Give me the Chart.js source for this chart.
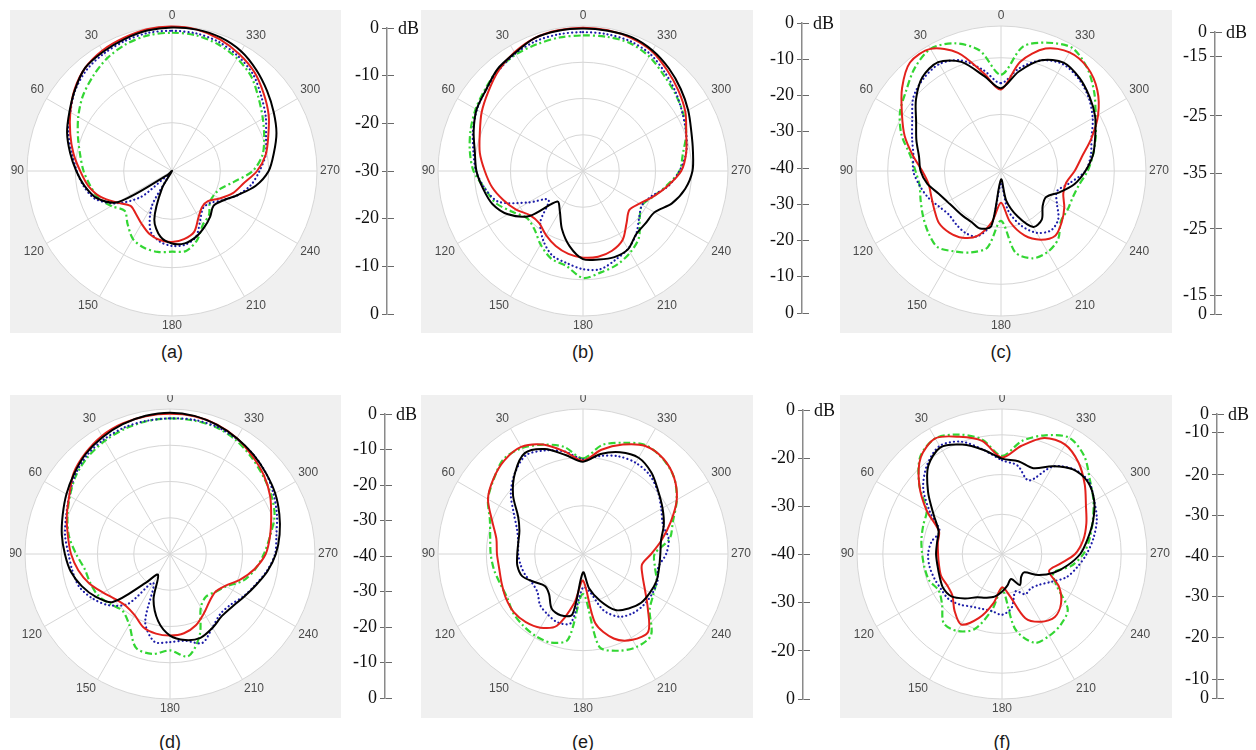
<!DOCTYPE html>
<html>
<head>
<meta charset="utf-8">
<script src="https://cdn.jsdelivr.net/npm/chart.js@4.4.1/dist/chart.umd.min.js"></script>
<style>
  html, body { margin: 0; padding: 0; background: #fff; }
  #fig { position: relative; width: 1256px; height: 750px; overflow: hidden; }
  .box { position: absolute; background: #f0f0f0; overflow: hidden; }
  .box canvas, .ax { position: absolute; }
  .db { position: absolute; font: 18px "Liberation Serif", "Times New Roman", serif; color: #111; line-height: 20px; }
  .cap { position: absolute; width: 60px; text-align: center; font: 18px "Liberation Sans", Arial, sans-serif; color: #1a1a1a; line-height: 20px; }
</style>
</head>
<body>
<div id="fig"></div>
<script>
/* polar patterns, 6 panels x 4 curves, dB per panel scale, angles counter-clockwise from top */
var angles = [0, 10, 20, 30, 40, 50, 60, 70, 80, 90, 100, 110, 120, 130, 140, 150, 160, 170,
  180, 190, 200, 210, 220, 230, 240, 250, 260, 270, 280, 290, 300, 310, 320, 330, 340, 350];

var aBlack = [-0.3, -0.5, -1.0, -1.5, -2.1, -3.8, -5.5, -6.9, -8.6, -10.2, -11.7, -13.5, -17.2, -28.6, -30, -25.9, -19.3, -16.2,
  -15.0, -14.8, -15.5, -16.6, -17.7, -18.8, -17.8, -15.5, -12.4, -10.0, -8.6, -7.0, -5.7, -4.3, -2.8, -1.4, -0.6, -0.3];
var aRed = [-0.1, -0.2, -0.7, -1.2, -2.1, -3.7, -5.7, -7.6, -9.3, -11.0, -12.4, -14.3, -16.9, -18.8, -18.4, -17.4, -16.2, -15.5,
  -15.3, -15.7, -16.6, -19.0, -20.3, -20.3, -18.6, -16.6, -15.0, -12.4, -10.3, -8.8, -6.9, -5.2, -3.4, -2.1, -1.0, -0.3];
var aBlue = [-1.0, -1.0, -1.4, -1.9, -2.6, -3.9, -5.7, -7.2, -9.0, -10.3, -11.5, -13.1, -16.6, -21.7, -28.6, -21.7, -16.9, -15.2,
  -14.5, -14.5, -15.5, -18.3, -20.0, -19.7, -17.9, -15.5, -13.4, -11.9, -10.3, -9.3, -7.6, -5.9, -3.9, -2.6, -1.6, -1.1];
var aGreen = [-1.4, -1.5, -2.1, -3.1, -4.5, -5.9, -7.6, -9.3, -10.7, -11.7, -12.8, -13.8, -15.5, -17.2, -15.7, -13.8, -13.1, -13.0,
  -13.3, -13.2, -14.8, -17.2, -18.1, -19.8, -20.0, -19.3, -17.0, -13.3, -11.0, -9.7, -8.3, -6.6, -4.5, -3.1, -2.1, -1.5];

var bBlack = [-0.7, -0.7, -1.0, -2.4, -3.3, -5.1, -6.1, -7.9, -9.7, -10.6, -12.0, -13.4, -16.1, -20.7, -29.0, -27.2, -23.0, -18.9,
  -15.7, -15.2, -14.7, -15.1, -17.2, -17.5, -17.2, -13.9, -11.4, -9.8, -9.2, -8.2, -6.5, -4.8, -3.1, -1.6, -0.7, -0.7];
var bRed = [-0.5, -0.6, -1.0, -2.2, -3.8, -5.9, -7.7, -9.7, -11.1, -12.9, -14.5, -16.6, -18.7, -21.0, -21.2, -19.6, -18.0, -16.8,
  -16.1, -16.0, -16.6, -18.1, -21.3, -23.3, -22.0, -19.4, -16.3, -12.9, -11.1, -9.7, -7.4, -5.6, -3.8, -1.9, -1.0, -0.6];
var bBlue = [-1.7, -1.7, -1.9, -2.6, -3.8, -5.1, -6.2, -7.7, -9.3, -10.5, -12.5, -15.2, -22.6, -27.6, -21.7, -18.0, -15.2, -14.2,
  -12.9, -12.5, -13.9, -15.2, -17.2, -19.8, -21.2, -19.8, -16.1, -13.4, -11.1, -9.7, -8.3, -6.5, -4.7, -2.8, -1.9, -1.7];
var bGreen = [-2.6, -2.6, -2.8, -2.9, -3.5, -4.8, -5.8, -7.0, -8.3, -9.8, -12.5, -14.3, -17.5, -19.8, -19.1, -16.6, -14.3, -13.4,
  -10.5, -11.6, -12.5, -14.0, -16.0, -19.6, -21.2, -19.4, -16.6, -13.4, -12.0, -9.7, -8.1, -6.8, -5.4, -3.5, -2.4, -2.4];

var cBlack = [-20.4, -18.0, -14.5, -12.8, -13.4, -15.4, -17.7, -19.1, -20.3, -20.8, -21.8, -23.3, -24.1, -24.5, -24.6, -24.6, -24.2, -25.1,
  -33.5, -29.7, -26.5, -23.6, -23.8, -25.4, -25.8, -24.0, -21.8, -20.1, -18.5, -17.3, -15.8, -14.6, -13.5, -12.9, -14.2, -17.2];
var cRed = [-20.6, -17.5, -12.8, -10.1, -10.0, -12.2, -14.8, -16.9, -19.2, -21.1, -22.0, -21.9, -21.4, -20.7, -20.8, -21.4, -22.8, -25.9,
  -29.4, -25.9, -22.9, -21.0, -20.1, -21.0, -22.1, -23.3, -23.3, -22.0, -20.5, -18.0, -15.2, -12.8, -11.2, -10.8, -12.0, -15.4];
var cBlue = [-19.5, -16.9, -14.2, -13.2, -13.7, -14.8, -16.9, -18.3, -19.3, -19.5, -20.4, -21.3, -22.4, -23.0, -22.7, -22.4, -22.7, -25.6,
  -32.7, -28.0, -24.8, -22.4, -21.3, -21.8, -23.6, -24.5, -22.7, -20.1, -18.9, -18.0, -16.3, -14.8, -13.7, -13.2, -14.2, -16.6];
var cGreen = [-18.0, -13.4, -11.0, -10.1, -11.3, -13.1, -14.4, -16.3, -18.7, -19.9, -20.4, -19.9, -19.1, -18.2, -17.5, -18.6, -19.7, -21.3,
  -26.2, -20.4, -18.6, -18.5, -19.3, -21.2, -21.4, -21.5, -21.0, -19.7, -18.5, -17.2, -15.7, -13.5, -11.3, -9.9, -10.9, -12.7];

var dBlack = [-1.0, -1.3, -1.9, -2.8, -3.9, -5.5, -7.0, -8.5, -9.7, -11.0, -12.2, -14.1, -16.4, -19.4, -29.7, -33.4, -26.7, -21.2,
  -17.5, -15.9, -15.4, -16.5, -17.7, -17.5, -16.4, -14.8, -12.7, -10.8, -9.3, -7.9, -6.5, -5.4, -4.2, -3.1, -2.1, -1.3];
var dRed = [-1.3, -1.4, -1.7, -2.4, -3.7, -5.3, -7.9, -9.7, -11.4, -12.7, -14.3, -16.3, -18.7, -20.5, -21.2, -20.5, -18.5, -17.7,
  -17.5, -17.8, -19.1, -21.2, -23.0, -23.7, -22.4, -19.4, -16.3, -13.6, -12.0, -10.3, -8.1, -6.2, -4.7, -3.1, -2.0, -1.4];
var dBlue = [-2.6, -2.7, -2.9, -3.5, -4.4, -5.9, -7.9, -9.5, -10.6, -12.0, -12.7, -13.4, -15.4, -18.0, -22.1, -30.8, -20.0, -15.4,
  -15.7, -15.7, -13.9, -16.6, -18.4, -18.2, -16.6, -15.0, -12.9, -11.0, -10.2, -8.6, -7.0, -5.4, -4.2, -3.3, -2.6, -2.4];
var dGreen = [-2.6, -2.8, -3.3, -4.0, -4.9, -6.2, -8.1, -9.9, -11.7, -14.1, -16.1, -16.6, -17.1, -18.5, -19.6, -17.5, -12.5, -12.0,
  -13.4, -11.3, -16.1, -23.0, -24.6, -23.7, -22.1, -18.5, -16.1, -14.1, -12.0, -9.3, -7.7, -6.5, -5.1, -3.7, -2.8, -2.6];

var eBlack = [-20.9, -19.2, -16.9, -15.9, -18.1, -21.1, -24.5, -26.0, -26.4, -26.4, -26.2, -26.6, -28.4, -29.7, -29.1, -27.0, -26.5, -27.3,
  -36.2, -32.8, -29.7, -26.6, -25.3, -24.3, -24.0, -23.8, -24.0, -24.0, -23.6, -22.2, -21.0, -19.7, -18.0, -17.0, -17.6, -19.0];
var eRed = [-20.7, -18.5, -15.9, -14.4, -14.7, -15.8, -17.3, -20.0, -21.8, -22.2, -22.4, -22.1, -21.6, -21.3, -21.6, -22.4, -24.2, -29.7,
  -34.5, -25.5, -21.4, -19.5, -19.0, -22.5, -25.2, -26.9, -27.6, -25.9, -23.5, -20.7, -17.6, -15.4, -14.2, -14.2, -15.9, -18.1];
var eBlue = [-20.4, -18.5, -17.2, -16.4, -18.1, -20.5, -23.5, -25.5, -26.4, -26.6, -26.9, -27.3, -27.9, -27.7, -26.2, -25.5, -24.9, -25.5,
  -33.1, -32.1, -27.6, -25.0, -24.0, -23.6, -23.5, -23.6, -24.2, -22.8, -22.0, -22.4, -21.3, -19.8, -18.6, -18.2, -18.5, -19.4];
var eGreen = [-20.2, -17.5, -15.9, -14.7, -14.4, -15.9, -17.3, -19.5, -20.5, -20.9, -21.3, -21.8, -21.9, -21.1, -20.7, -20.4, -20.5, -22.0,
  -31.7, -20.5, -18.7, -17.8, -18.1, -22.0, -23.2, -23.8, -24.9, -25.2, -21.8, -20.2, -17.6, -15.4, -14.3, -14.0, -15.5, -17.1];

var fBlack = [-16.0, -13.4, -10.7, -9.0, -11.1, -15.7, -20.1, -23.0, -23.4, -23.4, -23.5, -23.3, -22.9, -23.4, -25.4, -27.4, -28.3, -29.1,
  -30.5, -32.0, -33.3, -31.0, -32.5, -32.8, -29.4, -26.2, -23.3, -20.3, -18.1, -15.6, -13.2, -11.8, -12.2, -14.5, -17.0, -16.3];
var fRed = [-15.7, -11.1, -8.6, -6.4, -8.2, -12.8, -18.1, -23.1, -23.6, -23.9, -23.9, -23.7, -24.1, -23.7, -21.4, -19.5, -22.8, -27.4,
  -31.6, -29.5, -22.8, -20.3, -19.3, -20.6, -23.4, -27.4, -25.3, -21.6, -19.2, -17.4, -15.6, -12.8, -10.0, -8.2, -8.9, -12.4];
var fBlue = [-16.4, -13.4, -9.9, -8.6, -10.7, -14.1, -19.1, -23.3, -22.0, -21.4, -21.5, -21.9, -22.3, -22.4, -23.4, -24.7, -25.3, -25.4,
  -24.7, -26.2, -30.0, -28.3, -28.7, -27.9, -25.9, -22.8, -20.8, -18.7, -16.6, -14.6, -13.2, -11.5, -12.1, -14.6, -20.3, -17.4];
var fGreen = [-15.3, -10.7, -8.0, -6.4, -8.0, -12.8, -18.1, -18.9, -19.4, -19.9, -20.2, -20.5, -21.6, -20.3, -17.2, -17.6, -19.9, -25.8,
  -31.2, -20.8, -16.2, -16.2, -16.9, -18.4, -24.1, -26.2, -22.4, -19.5, -17.6, -15.7, -13.4, -11.1, -7.8, -6.2, -8.2, -11.1];

/* radial grid rings (dB) */
var ringsA = [-20, -10, 0];
var ringsB = [-30, -20, -10, 0];
var ringsC = [-25, -15, -9.4];
var ringsD = [-30, -20, -10, 0];
var ringsE = [-30, -20, -10];
var ringsF = [-30, -20, -10, -3.5];

/* side dB bars: tick value (dB from centre, up = +) and the printed text */
var barTicksA = [30, 20, 10, 0, -10, -20, -30];
var barTextA = ['0', '-10', '-20', '-30', '-20', '-10', '0'];
var barTicksB = [40, 30, 20, 10, 0, -10, -20, -30, -40];
var barTextB = ['0', '-10', '-20', '-30', '-40', '-30', '-20', '-10', '0'];
var barTicksC = [24.7, 20.4, 10, 0, -9.8, -21.4, -24.7];
var barTextC = ['0', '-15', '-25', '-35', '-25', '-15', '0'];
var barTicksD = [40, 30, 20, 10, 0, -10, -20, -30, -40];
var barTextD = ['0', '-10', '-20', '-30', '-40', '-30', '-20', '-10', '0'];
var barTicksE = [30, 20, 10, 0, -10, -20, -30];
var barTextE = ['0', '-20', '-30', '-40', '-30', '-20', '0'];
var barTicksF = [35, 30.5, 20, 10, 0, -10, -20, -30.5, -35];
var barTextF = ['0', '-10', '-20', '-30', '-40', '-30', '-20', '-10', '0'];

var panels = [
  { cap: '(a)', series: [aBlack, aRed, aBlue, aGreen], min: -30, max: 0, rings: ringsA, ticks: barTicksA, text: barTextA,
    box: [10, 10, 331, 323], c: [172, 172], bar: [387, 28, 314], capY: 352 },
  { cap: '(b)', series: [bBlack, bRed, bBlue, bGreen], min: -40, max: 0, rings: ringsB, ticks: barTicksB, text: barTextB,
    box: [421, 10, 332, 323], c: [583, 172], bar: [802, 23, 313], capY: 352 },
  { cap: '(c)', series: [cBlack, cRed, cBlue, cGreen], min: -35, max: -9.4, rings: ringsC, ticks: barTicksC, text: barTextC,
    box: [840, 10, 332, 323], c: [1001, 172], bar: [1215, 32, 314], capY: 352 },
  { cap: '(d)', series: [dBlack, dRed, dBlue, dGreen], min: -40, max: 0, rings: ringsD, ticks: barTicksD, text: barTextD,
    box: [10, 395, 331, 323], c: [170, 555], bar: [385, 414, 698], capY: 742 },
  { cap: '(e)', series: [eBlack, eRed, eBlue, eGreen], min: -40, max: -10, rings: ringsE, ticks: barTicksE, text: barTextE,
    box: [421, 395, 332, 323], c: [583, 555], bar: [803, 410, 699], capY: 742 },
  { cap: '(f)', series: [fBlack, fRed, fBlue, fGreen], min: -40, max: -3.5, rings: ringsF, ticks: barTicksF, text: barTextF,
    box: [840, 395, 332, 323], c: [1002, 555], bar: [1217, 414, 698], capY: 742 }
];

var STYLES = [
  { color: '#000000', width: 2, dash: [], cap: 'butt' },
  { color: '#e3211c', width: 2, dash: [], cap: 'butt' },
  { color: '#1c1ca8', width: 2.2, dash: [0.1, 4], cap: 'round' },
  { color: '#33d633', width: 2.2, dash: [7, 3, 2, 3], cap: 'butt' }
];

var fig = document.getElementById('fig');
var SANS = '"Liberation Sans", Arial, sans-serif';
var SERIF = '"Liberation Serif", "Times New Roman", serif';

// radar runs clockwise, the plots run counter-clockwise -> reorder
var order = angles.map(function (a, i) { return (angles.length - i) % angles.length; });
var labels = order.map(function (k) { return angles[k]; });

function place(node, x, y, w, h) {
  node.style.left = x + 'px';
  node.style.top = y + 'px';
  if (w != null) node.style.width = w + 'px';
  if (h != null) node.style.height = h + 'px';
  return node;
}

function drawPolar(p) {
  var box = place(document.createElement('div'), p.box[0], p.box[1], p.box[2], p.box[3]);
  box.className = 'box';
  fig.appendChild(box);
  var cv = document.createElement('canvas');
  cv.width = 400; cv.height = 324;
  place(cv, p.c[0] - 200 - p.box[0], p.c[1] - 162 - p.box[1]);
  box.appendChild(cv);

  new Chart(cv, {
    type: 'radar',
    data: {
      labels: labels,
      datasets: p.series.map(function (vals, s) {
        var st = STYLES[s];
        return {
          data: order.map(function (k) { return vals[k]; }),
          borderColor: st.color, borderWidth: st.width, borderDash: st.dash, borderCapStyle: st.cap,
          fill: false, pointRadius: 0, tension: 0.3
        };
      })
    },
    options: {
      responsive: false, animation: false, events: [],
      plugins: { legend: { display: false }, tooltip: { enabled: false } },
      scales: {
        r: {
          min: p.min, max: p.max, startAngle: 0, backgroundColor: '#ffffff',
          grid: { circular: true, color: '#d6d6d6', lineWidth: 1 },
          angleLines: { color: '#d6d6d6', lineWidth: function (c) { return c.index % 3 === 0 ? 1 : 0; } },
          ticks: { display: false },
          afterBuildTicks: function (s) { s.ticks = p.rings.map(function (v) { return { value: v }; }); },
          pointLabels: {
            padding: 3, color: '#4a4a4a',
            font: { family: SANS, size: 12, lineHeight: 1.1667 },
            callback: function (l) { return l % 30 === 0 ? String(l) : ''; }
          }
        }
      }
    }
  });
}

function drawBar(p) {
  var x = p.bar[0], top = p.bar[1], bottom = p.bar[2], pad = 14;
  var cv = document.createElement('canvas');
  cv.className = 'ax';
  cv.width = 57; cv.height = bottom - top + 2 * pad;
  place(cv, x - 50, top - pad);
  fig.appendChild(cv);

  new Chart(cv, {
    type: 'line',
    data: { labels: [], datasets: [] },
    options: {
      responsive: false, animation: false, events: [],
      layout: { padding: { top: pad, bottom: pad, left: 0, right: 0 } },
      plugins: { legend: { display: false }, tooltip: { enabled: false } },
      scales: {
        x: { display: false },
        y: {
          min: p.ticks[p.ticks.length - 1], max: p.ticks[0],
          afterBuildTicks: function (s) { s.ticks = p.ticks.map(function (v) { return { value: v }; }); },
          afterFit: function (s) { s.width = 50; },
          border: { color: '#8a8a8a', width: 1.5 },
          grid: { color: '#6a6a6a', lineWidth: 1, tickLength: 5 },
          ticks: {
            autoSkip: false, padding: 3, color: '#111',
            font: { family: SERIF, size: 18 },
            callback: function (v, i) { return p.text[i]; }
          }
        }
      }
    }
  });

  var db = place(document.createElement('div'), x + 11, top - 10);
  db.className = 'db';
  db.textContent = 'dB';
  fig.appendChild(db);
}

panels.forEach(function (p) {
  drawPolar(p);
  drawBar(p);
  var cap = place(document.createElement('div'), p.c[0] - 30, p.capY - 10);
  cap.className = 'cap';
  cap.textContent = p.cap;
  fig.appendChild(cap);
});
</script>
</body>
</html>
